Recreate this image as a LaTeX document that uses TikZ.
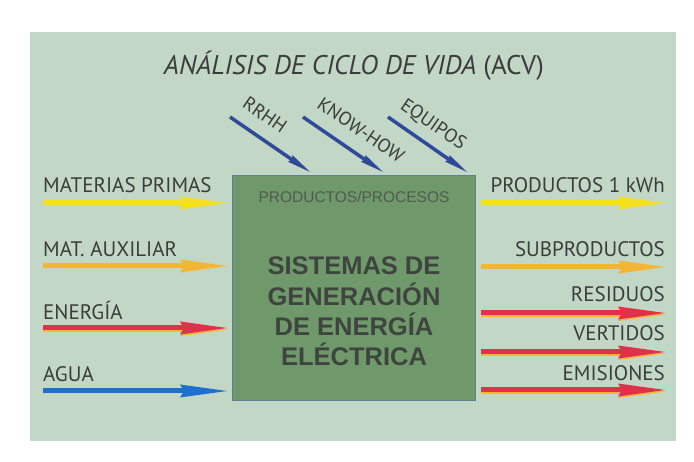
\documentclass[tikz,border=0pt]{standalone}
\usepackage{fontspec}
\setmainfont{PT Sans}
\newfontfamily\boxfont{Liberation Sans}
\usetikzlibrary{arrows.meta}
\definecolor{panel}{HTML}{C3D7C6}
\definecolor{boxgreen}{HTML}{6F996B}
\definecolor{boxedge}{HTML}{5F7F96}
\definecolor{ink}{HTML}{3A3D3A}
\definecolor{boxink}{HTML}{3E453E}
\definecolor{smallink}{HTML}{4F5C4F}
\definecolor{ayellow}{HTML}{F4E020}
\definecolor{aorange}{HTML}{F2B534}
\definecolor{ared}{HTML}{E0304A}
\definecolor{ablue}{HTML}{1F6FCF}
\definecolor{anavy}{HTML}{2E4A98}
\begin{document}
\begin{tikzpicture}[x=1pt,y=-1pt,
  flow/.style={line width=5pt,-{Stealth[length=47pt,width=13pt,inset=4pt,line width=0pt]}},
  under/.style={flow,draw=aorange,transform canvas={yshift=-1.6pt}},
  topflow/.style={line width=3.5pt,draw=anavy,-{Stealth[length=24pt,width=8pt,inset=2pt,line width=0pt]}},
  lab/.style={inner sep=0pt,text=ink,font=\fontsize{21}{24}\selectfont},
  toplab/.style={inner sep=0pt,text=ink,font=\fontsize{19}{22}\selectfont,rotate=-34.5},
  bigtxt/.style={inner sep=0pt,text=boxink,anchor=base,font=\boxfont\bfseries\fontsize{25.5}{28}\selectfont}]
\useasboundingbox (0,0) rectangle (694,462);
\fill[white] (0,0) rectangle (694,462);
\fill[panel] (30,32) rectangle (676,441);
% title
\node[inner sep=0pt,anchor=base,text=ink,font=\fontsize{27}{32}\selectfont] (title) at (354,75)
  {\itshape ANÁLISIS DE CICLO DE VIDA\/ \upshape(ACV)};
% box
\node[draw=boxedge,line width=1pt,fill=boxgreen,minimum width=243pt,minimum height=225pt,inner sep=0pt,anchor=north west] (box) at (232,175) {};
\node[inner sep=0pt,anchor=base,text=smallink,font=\boxfont\fontsize{15.5}{18}\selectfont] (pp) at (354,203) {PRODUCTOS/PROCESOS};
\node[bigtxt] (s1) at (354,275) {SISTEMAS DE};
\node[bigtxt] (s2) at (354,306) {GENERACIÓN};
\node[bigtxt] (s3) at (354,336) {DE ENERGÍA};
\node[bigtxt] (s4) at (354,366) {ELÉCTRICA};
% top arrows
\coordinate (t1s) at (230,117); \coordinate (t1e) at (310,172);
\coordinate (t2s) at (303,117); \coordinate (t2e) at (383,172);
\coordinate (t3s) at (388,117); \coordinate (t3e) at (467,172);
\draw[topflow] (t1s) -- (t1e);
\draw[topflow] (t2s) -- (t2e);
\draw[topflow] (t3s) -- (t3e);
\node[toplab] (rrhh) at (265,115) {RRHH};
\node[toplab] (know) at (361,130) {KNOW-HOW};
\node[toplab] (equi) at (433,125) {EQUIPOS};
% left inputs
\node[lab,anchor=base west] (mp) at (43,193) {MATERIAS PRIMAS};
\node[lab,anchor=base west] (ma) at (43,257) {MAT. AUXILIAR};
\node[lab,anchor=base west] (en) at (43,320) {ENERGÍA};
\node[lab,anchor=base west] (ag) at (43,382) {AGUA};
\coordinate (l1s) at (43,203); \coordinate (l1e) at (227,203);
\coordinate (l2s) at (43,266); \coordinate (l2e) at (227,266);
\coordinate (l3s) at (43,328); \coordinate (l3e) at (227,328);
\coordinate (l4s) at (43,391); \coordinate (l4e) at (227,391);
\draw[flow,draw=ayellow] (l1s) -- (l1e);
\draw[flow,draw=aorange] (l2s) -- (l2e);
\draw[under] (l3s) -- (l3e);
\draw[flow,draw=ared] (l3s) -- (l3e);
\draw[flow,draw=ablue] (l4s) -- (l4e);
% right outputs
\node[lab,anchor=base east] (pr) at (665,193) {PRODUCTOS 1 kWh};
\node[lab,anchor=base east] (sp) at (665,257) {SUBPRODUCTOS};
\node[lab,anchor=base east] (re) at (665,302) {RESIDUOS};
\node[lab,anchor=base east] (ve) at (665,341) {VERTIDOS};
\node[lab,anchor=base east] (em) at (665,381) {EMISIONES};
\coordinate (r1s) at (481,203); \coordinate (r1e) at (665,203);
\coordinate (r2s) at (481,267); \coordinate (r2e) at (665,267);
\coordinate (r3s) at (481,313); \coordinate (r3e) at (665,313);
\coordinate (r4s) at (481,352); \coordinate (r4e) at (665,352);
\coordinate (r5s) at (481,390); \coordinate (r5e) at (665,390);
\draw[flow,draw=ayellow] (r1s) -- (r1e);
\draw[flow,draw=aorange] (r2s) -- (r2e);
\draw[under] (r3s) -- (r3e);
\draw[flow,draw=ared] (r3s) -- (r3e);
\draw[under] (r4s) -- (r4e);
\draw[flow,draw=ared] (r4s) -- (r4e);
\draw[under] (r5s) -- (r5e);
\draw[flow,draw=ared] (r5s) -- (r5e);
\end{tikzpicture}
\end{document}
